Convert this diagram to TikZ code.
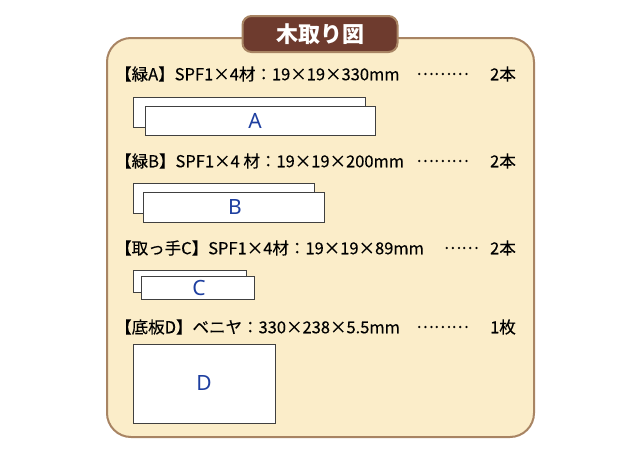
\documentclass[tikz,border=0pt]{standalone}
\usepackage{fontspec}
\setmainfont{Noto Sans CJK JP}
\newfontfamily\rowfont[FakeBold=0.3]{Noto Sans CJK JP}
\newfontfamily\lbl{Noto Sans}
\definecolor{panelfill}{HTML}{FBEDC9}
\definecolor{panelline}{HTML}{A88463}
\definecolor{tabfill}{HTML}{6E3B2E}
\definecolor{lblblue}{HTML}{1E3FA0}
\tikzset{
  px/.style={x=1pt,y=-1pt},
  piece/.style={draw=black!75,line width=0.9pt,fill=white},
  rowtext/.style={anchor=west,inner sep=0pt,font=\rowfont\fontsize{16.5}{18}\selectfont},
  righttext/.style={anchor=east,inner sep=0pt,font=\rowfont\fontsize{16.5}{18}\selectfont},
  letter/.style={text=lblblue,font=\lbl\fontsize{21}{23}\selectfont,inner sep=0pt}
}
\begin{document}
\begin{tikzpicture}[px]
\useasboundingbox (0,0) rectangle (640,450);
\fill[white] (0,0) rectangle (640,450);
% panel
\draw[fill=panelfill,draw=panelline,line width=2pt,rounded corners=24pt] (107,38) rectangle (534,437);
% tab
\node[draw=panelline,line width=2pt,fill=tabfill,rounded corners=9pt,minimum width=155pt,minimum height=36pt,inner sep=0pt,text=white,font=\bfseries\fontsize{22}{24}\selectfont] (tab) at (320,34) {木取り図};
% row A
\node[rowtext] (ta) at (115,74) {【緑A】SPF1×4材：19×19×330mm};
\node[righttext] (da) at (469,74) {………};
\node[righttext] (na) at (516,74) {2本};
\draw[piece] (133,97) rectangle (365,127);
\draw[piece] (145,106) rectangle (375,135);
\node[letter] (la) at (255,121) {A};
% row B
\node[rowtext] (tb) at (115,161) {【緑B】SPF1×4 材：19×19×200mm};
\node[righttext] (db) at (469,161) {………};
\node[righttext] (nb) at (516,161) {2本};
\draw[piece] (133,183) rectangle (314,213);
\draw[piece] (143,192) rectangle (324,222);
\node[letter] (lb) at (235,207) {B};
% row C
\node[rowtext] (tc) at (115,248) {【取っ手C】SPF1×4材：19×19×89mm};
\node[righttext] (dc) at (479,248) {……};
\node[righttext] (nc) at (516,248) {2本};
\draw[piece] (133,270) rectangle (246,292);
\draw[piece] (141,276) rectangle (254,299);
\node[letter] (lc) at (199,288) {C};
% row D
\node[rowtext] (td) at (115,327) {【底板D】ベニヤ：330×238×5.5mm};
\node[righttext] (dd) at (469,327) {………};
\node[righttext] (nd) at (516,327) {1枚};
\draw[piece] (133,344) rectangle (275,423);
\node[letter] (ld) at (204,383) {D};
\end{tikzpicture}
\end{document}
